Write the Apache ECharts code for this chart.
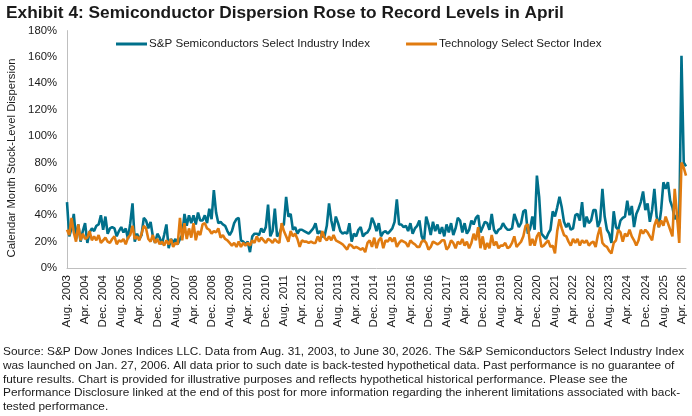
<!DOCTYPE html>
<html>
<head>
<meta charset="utf-8">
<script src="https://cdn.jsdelivr.net/npm/echarts@6/dist/echarts.min.js"></script>
<style>
  html, body { margin: 0; padding: 0; background: #fff; }
  #main { width: 692px; height: 416px; }
</style>
</head>
<body>
<div id="main"></div>
<script>
// ==============================================================
// Exhibit 4 - monthly dispersion, Aug. 2003 .. June 2026
// ==============================================================
var monthNames = ['Jan.', 'Feb.', 'Mar.', 'Apr.', 'May', 'June', 'July', 'Aug.', 'Sep.', 'Oct.', 'Nov.', 'Dec.'];
var startYear = 2003, startMonth = 7; // Aug.

var semiValues = [
  50, 24, 30, 41, 22, 33, 20, 28, 34, 19,
  27, 30, 28, 32, 33, 40, 29, 39, 26, 30,
  31, 30, 24, 28, 31, 27, 30, 22, 34, 49,
  20, 26, 22, 25, 38, 36, 30, 35, 24, 19,
  26, 23, 18, 25, 33, 15, 22, 19, 22, 18,
  22, 25, 41, 32, 40, 34, 40, 33, 42, 36,
  36, 40, 34, 45, 37, 59, 42, 34, 35, 33,
  32, 28, 25, 28, 34, 37, 38, 21, 20, 18,
  20, 12, 24, 26, 26, 25, 30, 27, 31, 48,
  24, 28, 45, 24, 26, 31, 33, 54, 39, 41,
  29, 31, 26, 29, 29, 28, 27, 26, 28, 30,
  34, 26, 28, 24, 24, 32, 49, 36, 28, 39,
  34, 28, 26, 27, 26, 34, 20, 26, 24, 29,
  31, 24, 26, 27, 30, 38, 34, 28, 34, 24,
  27, 28, 26, 28, 30, 35, 52, 33, 33, 31,
  32, 28, 34, 26, 30, 32, 36, 24, 20, 39,
  33, 25, 35, 28, 33, 26, 31, 24, 33, 27,
  34, 25, 30, 38, 36, 27, 34, 26, 29, 36,
  33, 38, 40, 27, 31, 35, 34, 29, 41, 29,
  26, 29, 30, 34, 31, 29, 29, 30, 41, 36,
  31, 34, 43, 44, 26, 30, 39, 29, 70, 54,
  26, 24, 22, 26, 29, 43, 39, 46, 54, 46,
  35, 31, 34, 29, 30, 40, 41, 36, 50, 31,
  39, 34, 36, 44, 44, 31, 36, 60, 39, 29,
  26, 19, 43, 31, 29, 36, 38, 39, 51, 40,
  47, 31, 41, 45, 50, 58, 44, 49, 35, 44,
  60, 39, 31, 44, 65, 60, 65, 51, 46, 37,
  40, 30, 161, 80, 77
];

var techValues = [
  29, 25, 38, 27, 20, 33, 21, 26, 22, 23,
  28, 21, 24, 21, 25, 19, 21, 23, 20, 19,
  22, 24, 18, 21, 20, 22, 18, 23, 25, 32,
  22, 24, 21, 26, 32, 30, 22, 20, 25, 19,
  22, 18, 20, 17, 21, 18, 22, 16, 19, 18,
  38, 21, 34, 22, 30, 23, 34, 21, 28, 25,
  33, 34, 30, 29, 26, 28, 27, 30, 23, 25,
  22, 21, 19, 17, 19, 16, 20, 16, 19, 17,
  19, 17, 21, 19, 24, 20, 23, 21, 19, 22,
  21, 19, 22, 20, 19, 34, 28, 24, 20, 28,
  24, 26, 22, 16, 21, 20, 20, 19, 20, 19,
  19, 24, 20, 28, 23, 21, 24, 21, 25, 21,
  20, 19, 18, 16, 14, 18, 17, 15, 16, 15,
  14, 15, 12, 19, 21, 16, 23, 15, 21, 23,
  15, 21, 20, 23, 20, 23, 16, 19, 21, 20,
  19, 16, 21, 19, 18, 16, 16, 20, 21, 19,
  14, 16, 20, 19, 18, 19, 21, 21, 14, 16,
  21, 19, 15, 20, 18, 22, 17, 20, 15, 19,
  26, 21, 31, 15, 24, 14, 19, 15, 25, 17,
  20, 15, 17, 17, 19, 15, 16, 19, 24, 16,
  18, 20, 24, 32, 33, 17, 22, 17, 24, 27,
  16, 17, 19, 21, 16, 17, 11, 28, 37, 30,
  25, 24, 20, 17, 22, 19, 22, 17, 21, 19,
  21, 17, 19, 20, 16, 25, 31, 19, 17, 16,
  13, 11, 19, 21, 29, 27, 20, 26, 24, 29,
  24, 21, 17, 21, 29, 26, 29, 27, 24, 21,
  32, 37, 31, 36, 32, 39, 34, 29, 24, 60,
  40, 19, 80, 76, 70
];

var seriesNames = ['S&P Semiconductors Select Industry Index', 'Technology Select Sector Index'];
var yTicks = [0, 20, 40, 60, 80, 100, 120, 140, 160, 180];

var footnote = [
  'Source: S&P Dow Jones Indices LLC. Data from Aug. 31, 2003, to June 30, 2026. The S&P Semiconductors Select Industry Index',
  'was launched on Jan. 27, 2006. All data prior to such date is back-tested hypothetical data. Past performance is no guarantee of',
  'future results. Chart is provided for illustrative purposes and reflects hypothetical historical performance. Please see the',
  'Performance Disclosure linked at the end of this post for more information regarding the inherent limitations associated with back-',
  'tested performance.'
];

// month labels
var months = [];
for (var i = 0; i < semiValues.length; i++) {
  var m = (startMonth + i) % 12;
  var y = startYear + Math.floor((startMonth + i) / 12);
  months.push(monthNames[m] + ' ' + y);
}

var font = "'Liberation Sans', Arial, sans-serif";

// fit footnote font size to the width of its first line
var ctx = document.createElement('canvas').getContext('2d');
ctx.font = '10px ' + font;
var noteSize = Math.min(12, 10 * 681 / ctx.measureText(footnote[0]).width);

var myChart = echarts.init(document.getElementById('main'));

option = {
    animation: false,
    color: ['#00708b', '#e07b10'],
    title: {
        text: 'Exhibit 4: Semiconductor Dispersion Rose to Record Levels in April',
        left: 1,
        top: 0,
        textStyle: { fontFamily: font, fontSize: 17.3, fontWeight: 'bold', color: '#1a1a1a' }
    },
    legend: {
        data: seriesNames,
        left: 111,
        top: 33,
        icon: 'rect',
        itemWidth: 31,
        itemHeight: 3,
        itemGap: 36,
        textStyle: { fontFamily: font, fontSize: 11.6, color: '#1a1a1a', padding: [0, 0, 0, -3] }
    },
    grid: {
        left: 67,
        right: 6,
        top: 30.6,
        bottom: 148
    },
    xAxis: {
        type: 'category',
        data: months,
        boundaryGap: false,
        axisLine: { lineStyle: { color: '#bfbfbf', width: 1 } },
        axisTick: { show: false },
        axisLabel: {
            interval: 7,
            rotate: 90,
            margin: 7,
            fontFamily: font,
            fontSize: 11.5,
            color: '#1a1a1a'
        }
    },
    yAxis: {
        type: 'value',
        min: yTicks[0],
        max: yTicks[yTicks.length - 1],
        interval: 20,
        axisLine: { show: true, lineStyle: { color: '#bfbfbf', width: 1 } },
        axisTick: { show: false },
        splitLine: { show: false },
        axisLabel: {
            formatter: '{value}%',
            margin: 10,
            fontFamily: font,
            fontSize: 11.3,
            color: '#1a1a1a'
        }
    },
    graphic: [
        {
            type: 'text',
            x: 12,
            y: 158,
            rotation: Math.PI / 2,
            style: {
                text: 'Calendar Month Stock-Level Dispersion',
                font: '11.3px ' + font,
                fill: '#1a1a1a',
                align: 'center',
                verticalAlign: 'middle'
            }
        },
        {
            type: 'text',
            left: 3,
            top: 345,
            style: {
                text: footnote.join('\n'),
                font: noteSize.toFixed(2) + 'px ' + font,
                lineHeight: 13.7,
                fill: '#1a1a1a'
            }
        }
    ],
    series: [
        {
            name: seriesNames[0],
            type: 'line',
            data: semiValues,
            symbol: 'none',
            lineStyle: { width: 2.6 }
        },
        {
            name: seriesNames[1],
            type: 'line',
            data: techValues,
            symbol: 'none',
            lineStyle: { width: 2.6 }
        }
    ]
};

myChart.setOption(option, true);
</script>
</body>
</html>
